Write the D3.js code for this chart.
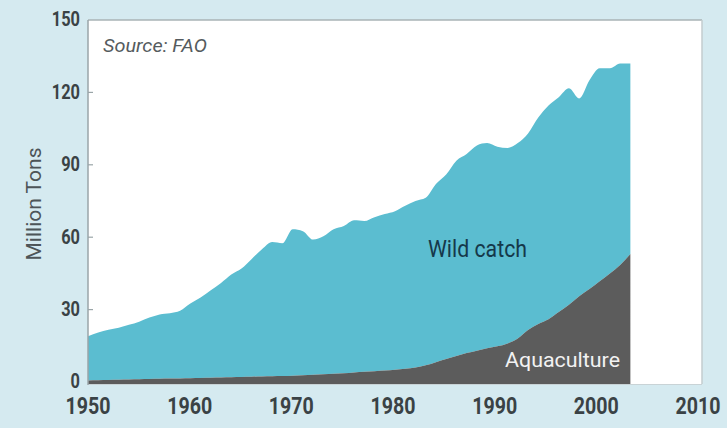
<!DOCTYPE html>
<html><head><meta charset="utf-8">
<script src="https://cdn.jsdelivr.net/npm/d3@7"></script>
<style>
html,body{margin:0;padding:0;background:#d5eaf0;}
svg{display:block;}
</style></head>
<body><svg id="c" width="727" height="428"></svg>
<script>
const years = d3.range(1950, 2004);
const wildCatch = [18.4,19.8,20.9,21.6,22.7,23.9,25.5,26.7,27.1,28,
  30.9,33.3,36.2,39.1,42.5,44.9,48.8,52.7,55.6,55,
  60.7,59.7,56,57.2,59.9,61,63.1,62.5,63.8,64.8,
  65.7,67.5,69,69.4,73.8,76.5,80.9,82.5,85,85,
  82.7,81,81,81.5,85.6,88.6,89,89.7,82,86.5,
  88.3,85,83.5,79];
const aquaculture = [0.6,0.7,0.8,0.9,1.0,1.1,1.2,1.3,1.4,1.5,
  1.6,1.7,1.8,1.9,2.0,2.1,2.2,2.3,2.4,2.5,
  2.6,2.8,3.0,3.2,3.4,3.6,3.9,4.2,4.5,4.8,
  5.1,5.5,6.0,6.9,8.2,9.5,10.8,12,13,14,
  14.8,16,18,21.5,24,26,29,32,35.5,38.5,
  41.7,45,48.5,53];
const yTicks = [0,30,60,90,120,150];
const xTicks = [1950,1960,1970,1980,1990,2000,2010];

const svg = d3.select("#c");
const L=88, R=702, T=20, B=382;
const x = d3.scaleLinear().domain([1950,2010]).range([L,R]);
const y = d3.scaleLinear().domain([0,150]).range([B,T]);

svg.append("rect").attr("x",L).attr("y",T).attr("width",R-L).attr("height",B+2-T)
  .attr("fill","#ffffff");

const rows = years.map((yr,i)=>({year:yr, aquaculture:aquaculture[i], wild:wildCatch[i]}));
const series = d3.stack().keys(["aquaculture","wild"])(rows);
const colors = {aquaculture:"#5c5c5c", wild:"#5bbdd0"};
const area = d3.area()
  .x(d=>x(d.data.year))
  .y0(d=>y(d[0]) + (d[0]===0?2:0))
  .y1(d=>y(d[1]))
  .curve(d3.curveMonotoneX);
svg.selectAll("path.s").data(series.slice().reverse()).join("path")
  .attr("class","s")
  .attr("d",area)
  .attr("fill",d=>colors[d.key]);

svg.append("line").attr("x1",L).attr("x2",R).attr("y1",T).attr("y2",T).attr("stroke","#a9b3b6").attr("stroke-width",1.5);
svg.append("line").attr("x1",R).attr("x2",R).attr("y1",T).attr("y2",B+2).attr("stroke","#c3cccf").attr("stroke-width",1.5);
svg.append("line").attr("x1",L).attr("x2",R).attr("y1",B+2.5).attr("y2",B+2.5).attr("stroke","#c9d3d6").attr("stroke-width",1);
svg.append("line").attr("x1",L).attr("x2",L).attr("y1",T).attr("y2",B+3).attr("stroke","#9aa5a8").attr("stroke-width",1.5);

const font = "Roboto,'Liberation Sans',sans-serif";
function fit(sel, w){ return sel.attr("textLength",w).attr("lengthAdjust","spacingAndGlyphs"); }

const yAxis = svg.append("g");
yTicks.forEach(t=>{
  if (t>0 && t<150) yAxis.append("line").attr("x1",L).attr("x2",L+5).attr("y1",y(t)).attr("y2",y(t)).attr("stroke","#9aa5a8").attr("stroke-width",1.2);
  const s = String(t);
  fit(yAxis.append("text").attr("x",80).attr("y",y(t)).attr("dy","0.3em")
    .attr("text-anchor","end").attr("font-family",font).attr("font-size",21)
    .attr("font-weight","bold").attr("fill","#3a4245").text(s), s.length*9.4);
});
xTicks.forEach(t=>{
  fit(svg.append("text").attr("x",x(t)-(t-1950)/15).attr("y",414)
    .attr("text-anchor","middle").attr("font-family",font).attr("font-size",23)
    .attr("font-weight","bold").attr("fill","#3a4245").text(t), 45);
});

fit(svg.append("text").attr("transform","translate(41,204) rotate(-90)")
  .attr("text-anchor","middle").attr("font-family",font).attr("font-size",20)
  .attr("fill","#4d5558").text("Million Tons"), 113);

fit(svg.append("text").attr("x",103).attr("y",52).attr("font-family",font)
  .attr("font-size",19).attr("font-style","italic").attr("fill","#555b5e").text("Source: FAO"), 104);

fit(svg.append("text").attr("x",428).attr("y",257).attr("font-family",font)
  .attr("font-size",23).attr("fill","#15384a").text("Wild catch"), 99);
fit(svg.append("text").attr("x",505).attr("y",367).attr("font-family",font)
  .attr("font-size",21).attr("fill","#f2f2f2").text("Aquaculture"), 115);
</script></body></html>
